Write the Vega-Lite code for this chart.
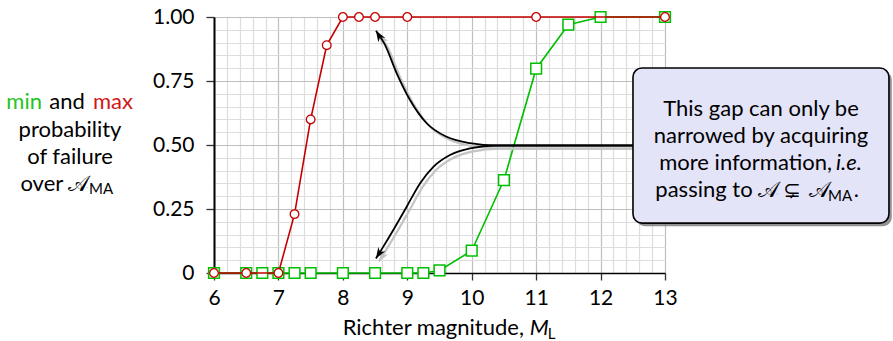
{
  "$schema": "https://vega.github.io/schema/vega-lite/v6.json",
  "autosize": {"type": "none"},
  "padding": {"left": 214, "top": 17, "right": 228, "bottom": 68},
  "width": 451,
  "height": 256,
  "config": {"view": {"stroke": null}, "font": "Lato", "text": {"font": "Lato", "fontSize": 22, "color": "black"}},
  "datasets": {
    "mindata": [
      {"x": 6, "y": 0}, {"x": 6.5, "y": 0}, {"x": 6.75, "y": 0}, {"x": 7, "y": 0}, {"x": 7.25, "y": 0}, {"x": 7.5, "y": 0},
      {"x": 8, "y": 0}, {"x": 8.5, "y": 0}, {"x": 9, "y": 0}, {"x": 9.25, "y": 0}, {"x": 9.5, "y": 0.01}, {"x": 10, "y": 0.087},
      {"x": 10.5, "y": 0.363}, {"x": 11, "y": 0.798}, {"x": 11.5, "y": 0.97}, {"x": 12, "y": 1}, {"x": 13, "y": 1}
    ],
    "maxdata": [
      {"x": 6, "y": 0}, {"x": 6.5, "y": 0}, {"x": 7, "y": 0}, {"x": 7.25, "y": 0.23}, {"x": 7.5, "y": 0.6}, {"x": 7.75, "y": 0.89},
      {"x": 8, "y": 1}, {"x": 8.25, "y": 1}, {"x": 8.5, "y": 1}, {"x": 9, "y": 1}, {"x": 11, "y": 1}, {"x": 13, "y": 1}
    ],
    "curves": [
      {"c": "u", "x": 8.514, "y": 0.946}, {"c": "u", "x": 8.654, "y": 0.891}, {"c": "u", "x": 8.836, "y": 0.78}, {"c": "u", "x": 9.042, "y": 0.676},
      {"c": "u", "x": 9.301, "y": 0.585}, {"c": "u", "x": 9.612, "y": 0.532}, {"c": "u", "x": 9.973, "y": 0.507}, {"c": "u", "x": 10.388, "y": 0.498},
      {"c": "u", "x": 12.503, "y": 0.498},
      {"c": "l", "x": 8.514, "y": 0.057}, {"c": "l", "x": 8.628, "y": 0.103}, {"c": "l", "x": 8.783, "y": 0.168}, {"c": "l", "x": 8.991, "y": 0.259},
      {"c": "l", "x": 9.197, "y": 0.35}, {"c": "l", "x": 9.404, "y": 0.415}, {"c": "l", "x": 9.663, "y": 0.461}, {"c": "l", "x": 9.973, "y": 0.487},
      {"c": "l", "x": 10.388, "y": 0.498}, {"c": "l", "x": 12.503, "y": 0.498}
    ],
    "shadows": [
      {"c": "u", "x": 8.561, "y": 0.934}, {"c": "u", "x": 8.701, "y": 0.879}, {"c": "u", "x": 8.883, "y": 0.768}, {"c": "u", "x": 9.089, "y": 0.664},
      {"c": "u", "x": 9.348, "y": 0.573}, {"c": "u", "x": 9.659, "y": 0.52}, {"c": "u", "x": 10.02, "y": 0.495}, {"c": "u", "x": 10.435, "y": 0.486},
      {"c": "u", "x": 12.55, "y": 0.486},
      {"c": "l", "x": 8.561, "y": 0.045}, {"c": "l", "x": 8.675, "y": 0.091}, {"c": "l", "x": 8.83, "y": 0.156}, {"c": "l", "x": 9.038, "y": 0.247},
      {"c": "l", "x": 9.244, "y": 0.338}, {"c": "l", "x": 9.451, "y": 0.403}, {"c": "l", "x": 9.71, "y": 0.449}, {"c": "l", "x": 10.02, "y": 0.475},
      {"c": "l", "x": 10.435, "y": 0.486}, {"c": "l", "x": 12.55, "y": 0.486}
    ]
  },
  "encoding": {
    "x": {"field": "x", "type": "quantitative", "scale": {"domain": [6, 13], "nice": false, "zero": false},
      "axis": {
        "values": [6, 6.2, 6.4, 6.6, 6.8, 7, 7.2, 7.4, 7.6, 7.8, 8, 8.2, 8.4, 8.6, 8.8, 9, 9.2, 9.4, 9.6, 9.8, 10, 10.2, 10.4, 10.6, 10.8, 11, 11.2, 11.4, 11.6, 11.8, 12, 12.2, 12.4, 12.6, 12.8, 13],
        "grid": true,
        "gridColor": {"condition": {"test": "abs(datum.value - round(datum.value)) < 0.001", "value": "#bebebe"}, "value": "#dddddd"},
        "gridWidth": 1.2,
        "labelExpr": "abs(datum.value - round(datum.value)) < 0.001 ? format(datum.value, 'd') : ''",
        "tickOpacity": {"condition": {"test": "abs(datum.value - round(datum.value)) < 0.001", "value": 1}, "value": 0},
        "tickSize": 7, "tickColor": "#333333", "tickWidth": 1.3,
        "domainColor": "black", "domainWidth": 1.6,
        "labelFont": "Lato", "labelFontSize": 21, "labelColor": "black", "labelPadding": 7,
        "labelFlush": false, "labelOverlap": false, "title": null
      }},
    "y": {"field": "y", "type": "quantitative", "scale": {"domain": [0, 1], "nice": false},
      "axis": {
        "values": [0, 0.05, 0.1, 0.15, 0.2, 0.25, 0.3, 0.35, 0.4, 0.45, 0.5, 0.55, 0.6, 0.65, 0.7, 0.75, 0.8, 0.85, 0.9, 0.95, 1],
        "grid": true,
        "gridColor": {"condition": {"test": "abs(datum.value*4 - round(datum.value*4)) < 0.001", "value": "#bebebe"}, "value": "#dddddd"},
        "gridWidth": 1.2,
        "labelExpr": "abs(datum.value*4 - round(datum.value*4)) < 0.001 ? (datum.value == 0 ? '0' : format(datum.value, '.2f')) : ''",
        "tickOpacity": {"condition": {"test": "abs(datum.value*4 - round(datum.value*4)) < 0.001", "value": 1}, "value": 0},
        "tickSize": 8, "tickColor": "#333333", "tickWidth": 1.3,
        "domainColor": "black", "domainWidth": 2,
        "labelFont": "Lato", "labelFontSize": 21, "labelColor": "black", "labelPadding": 12,
        "labelFlush": false, "labelOverlap": false, "title": null
      }}
  },
  "layer": [
    {
      "data": {"name": "mindata"},
      "mark": {"type": "line", "color": "#00bf00", "strokeWidth": 1.6, "clip": false}
    },
    {
      "data": {"name": "mindata"},
      "mark": {"type": "point", "shape": "square", "filled": true, "fill": "white", "stroke": "#00bf00", "strokeWidth": 1.5, "size": 115, "opacity": 1, "clip": false}
    },
    {
      "data": {"name": "maxdata"},
      "mark": {"type": "line", "color": "#c40000", "strokeWidth": 1.6, "clip": false}
    },
    {
      "data": {"name": "maxdata"},
      "mark": {"type": "point", "shape": "circle", "filled": true, "fill": "white", "stroke": "#c40000", "strokeWidth": 1.3, "size": 75, "opacity": 1, "clip": false}
    },
    {
      "data": {"name": "shadows"},
      "mark": {"type": "line", "color": "#c4c4c4", "strokeWidth": 2.2, "interpolate": "monotone", "clip": false},
      "encoding": {"detail": {"field": "c"}}
    },
    {
      "data": {"values": [{"x": 8.561, "y": 0.934}]},
      "mark": {"type": "point", "shape": "M0,0 L0.75,2 L0,1.4 L-0.75,2 Z", "angle": -32, "size": 121, "filled": true, "color": "#c4c4c4", "opacity": 1, "clip": false}
    },
    {
      "data": {"values": [{"x": 8.561, "y": 0.045}]},
      "mark": {"type": "point", "shape": "M0,0 L0.75,2 L0,1.4 L-0.75,2 Z", "angle": 212, "size": 121, "filled": true, "color": "#c4c4c4", "opacity": 1, "clip": false}
    },
    {
      "data": {"name": "curves"},
      "mark": {"type": "line", "color": "black", "strokeWidth": 1.8, "interpolate": "monotone", "clip": false},
      "encoding": {"detail": {"field": "c"}}
    },
    {
      "data": {"values": [{"x": 8.514, "y": 0.946}]},
      "mark": {"type": "point", "shape": "M0,0 L0.75,2 L0,1.4 L-0.75,2 Z", "angle": -32, "size": 121, "filled": true, "color": "black", "opacity": 1, "clip": false}
    },
    {
      "data": {"values": [{"x": 8.514, "y": 0.057}]},
      "mark": {"type": "point", "shape": "M0,0 L0.75,2 L0,1.4 L-0.75,2 Z", "angle": 212, "size": 121, "filled": true, "color": "black", "opacity": 1, "clip": false}
    },
    {
      "data": {"values": [{"x": 12.55, "x2": 16.52, "y": 0.789, "y2": 0.183}]},
      "mark": {"type": "rect", "fill": "#6e6e6e", "opacity": 0.75, "cornerRadius": 9, "clip": false},
      "encoding": {"x2": {"field": "x2"}, "y2": {"field": "y2"}}
    },
    {
      "data": {"values": [{"x": 12.503, "x2": 16.476, "y": 0.801, "y2": 0.195}]},
      "mark": {"type": "rect", "fill": "#e4e4f9", "stroke": "black", "strokeWidth": 1.6, "cornerRadius": 9, "clip": false},
      "encoding": {"x2": {"field": "x2"}, "y2": {"field": "y2"}}
    },
    {
      "data": {"values": [
        {"x": 14.49, "y": 0.613, "t": "This gap can only be"},
        {"x": 14.49, "y": 0.508, "t": "narrowed by acquiring"},
        {"x": 3.765, "y": 0.533, "t": "probability"},
        {"x": 3.765, "y": 0.426, "t": "of failure"},
        {"x": 3.718, "y": 0.641, "t": "and"}
      ]},
      "mark": {"type": "text", "align": "center", "baseline": "alphabetic", "clip": false},
      "encoding": {"text": {"field": "t"}}
    },
    {
      "data": {"values": [
        {"x": 15.592, "y": 0.402, "t": "more information,"},
        {"x": 14.36, "y": 0.297, "t": "passing to"},
        {"x": 3.661, "y": 0.32, "t": "over"},
        {"x": 10.811, "y": -0.242, "t": "Richter magnitude,"}
      ]},
      "mark": {"type": "text", "align": "right", "baseline": "alphabetic", "clip": false},
      "encoding": {"text": {"field": "t"}}
    },
    {
      "data": {"values": [
        {"x": 14.44, "y": 0.297, "t": "𝒜"},
        {"x": 15.234, "y": 0.297, "t": "𝒜"},
        {"x": 3.734, "y": 0.32, "t": "𝒜"}
      ]},
      "mark": {"type": "text", "align": "left", "baseline": "alphabetic", "fontSize": 22, "clip": false},
      "encoding": {"text": {"field": "t"}}
    },
    {
      "data": {"values": [{"x": 14.97, "y": 0.297, "t": "⊊"}]},
      "mark": {"type": "text", "align": "center", "baseline": "alphabetic", "fontSize": 21, "font": "DejaVu Sans", "clip": false},
      "encoding": {"text": {"field": "t"}}
    },
    {
      "data": {"values": [
        {"x": 15.654, "y": 0.402, "t": "i.e."},
        {"x": 10.9, "y": -0.242, "t": "M"}
      ]},
      "mark": {"type": "text", "align": "left", "baseline": "alphabetic", "fontStyle": "italic", "clip": false},
      "encoding": {"text": {"field": "t"}}
    },
    {
      "data": {"values": [
        {"x": 15.53, "y": 0.281, "t": "MA"},
        {"x": 4.06, "y": 0.309, "t": "MA"},
        {"x": 11.18, "y": -0.258, "t": "L"}
      ]},
      "mark": {"type": "text", "align": "left", "baseline": "alphabetic", "fontSize": 15, "clip": false},
      "encoding": {"text": {"field": "t"}}
    },
    {
      "data": {"values": [{"x": 15.93, "y": 0.297, "t": "."}]},
      "mark": {"type": "text", "align": "left", "baseline": "alphabetic", "clip": false},
      "encoding": {"text": {"field": "t"}}
    },
    {
      "data": {"values": [{"x": 3.33, "y": 0.641, "t": "min"}]},
      "mark": {"type": "text", "align": "right", "baseline": "alphabetic", "color": "#22c422", "clip": false},
      "encoding": {"text": {"field": "t"}}
    },
    {
      "data": {"values": [{"x": 4.122, "y": 0.641, "t": "max"}]},
      "mark": {"type": "text", "align": "left", "baseline": "alphabetic", "color": "#d01818", "clip": false},
      "encoding": {"text": {"field": "t"}}
    }
  ]
}
